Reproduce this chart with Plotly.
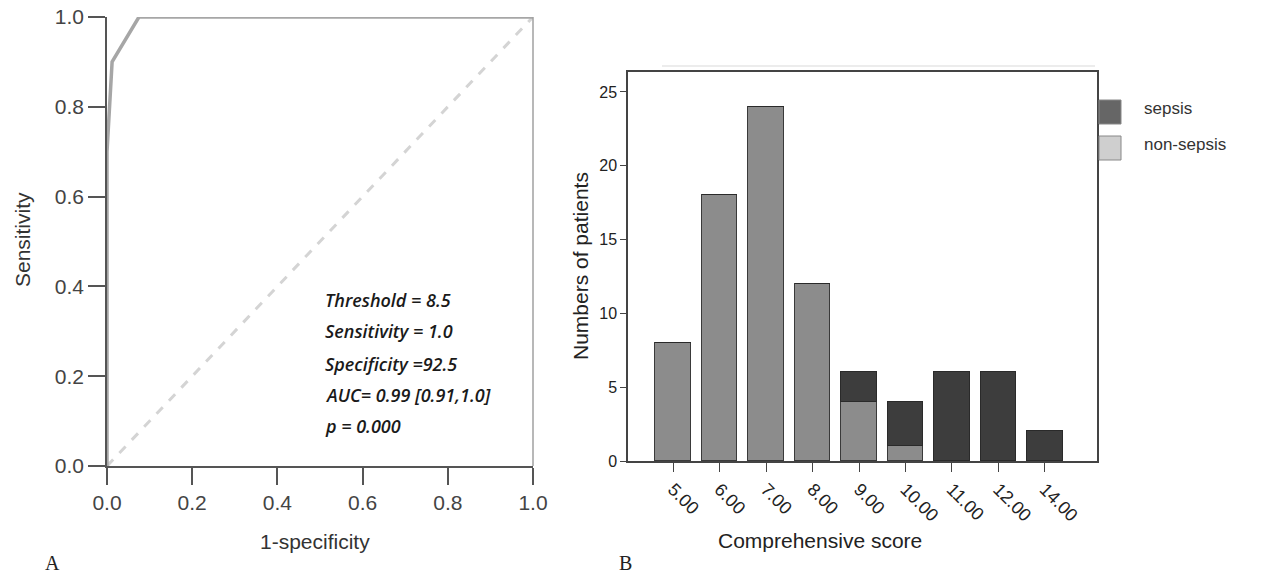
import plotly.graph_objects as go

# ROC data (panel A)
roc_fpr = [0.0, 0.0, 0.012, 0.075, 1.0]
roc_tpr = [0.0, 0.70, 0.90, 1.0, 1.0]
diag = [0.0, 1.0]
roc_ticks = [0.0, 0.2, 0.4, 0.6, 0.8, 1.0]
roc_notes = ["Threshold = 8.5", "Sensitivity = 1.0", "Specificity =92.5",
             "AUC= 0.99 [0.91,1.0]", "p = 0.000"]

# Histogram data (panel B)
score_labels = ["5.00", "6.00", "7.00", "8.00", "9.00", "10.00", "11.00", "12.00", "14.00"]
non_sepsis = [8, 18, 24, 12, 4, 1, 0, 0, 0]
sepsis = [0, 0, 0, 0, 2, 3, 6, 6, 2]
count_ticks = [0, 5, 10, 15, 20, 25]
legend_names = ["sepsis", "non-sepsis"]
legend_colors = ["#666666", "#cfcfcf"]

W, H = 1264, 575
OFF = 8  # page body margin
def px(x): return (x - OFF) / W
def py(y): return 1 - (y - OFF) / H

fig = go.Figure()

# Panel A
fig.add_trace(go.Scatter(x=diag, y=diag, mode="lines", xaxis="x", yaxis="y",
                         line=dict(color="#d4d4d4", width=3, dash="dash"), showlegend=False))
fig.add_trace(go.Scatter(x=roc_fpr, y=roc_tpr, mode="lines", xaxis="x", yaxis="y",
                         line=dict(color="#a6a6a6", width=3.5), showlegend=False, cliponaxis=False))

# Panel B
idx = list(range(len(score_labels)))
fig.add_trace(go.Bar(x=idx, y=non_sepsis, xaxis="x2", yaxis="y2", width=0.76,
                     marker=dict(color="#8c8c8c", line=dict(color="#3a3a3a", width=1)),
                     showlegend=False, name="non-sepsis"))
fig.add_trace(go.Bar(x=idx, y=sepsis, xaxis="x2", yaxis="y2", width=0.76,
                     marker=dict(color="#3d3d3d", line=dict(color="#2a2a2a", width=1)),
                     showlegend=False, name="sepsis"))

tickfont = dict(family="Liberation Sans, Arial", size=21, color="#444")
fig.update_layout(
    width=W, height=H, margin=dict(l=0, r=0, t=0, b=0, autoexpand=False),
    paper_bgcolor="white", plot_bgcolor="white", barmode="stack", bargap=0,
    showlegend=False,
    xaxis=dict(domain=[px(107), px(533)], range=[0, 1], tickvals=roc_ticks,
               ticktext=[f"{v:.1f}" for v in roc_ticks], ticks="outside", ticklen=17,
               tickcolor="#555", tickwidth=1.5, showline=True, linecolor="#555", linewidth=1.5,
               showgrid=False, zeroline=False, tickfont=tickfont, anchor="y", automargin=False,
               ticklabeloverflow="allow"),
    yaxis=dict(domain=[py(466), py(17)], range=[0, 1], tickvals=roc_ticks,
               ticktext=[f"{v:.1f}" for v in roc_ticks], ticks="outside", ticklen=17,
               tickcolor="#555", tickwidth=1.5, showline=True, linecolor="#555", linewidth=1.5,
               showgrid=False, zeroline=False, tickfont=tickfont, anchor="x", automargin=False,
               ticklabeloverflow="allow"),
    xaxis2=dict(domain=[px(628), px(1097)], range=[-0.97, 9.12], tickvals=idx,
                ticktext=score_labels, tickangle=45, ticks="outside", ticklen=9,
                tickcolor="#444", showline=True, linecolor="#444", linewidth=1.5, mirror=True,
                showgrid=False, zeroline=False, automargin=False, ticklabeloverflow="allow",
                tickfont=dict(family="Liberation Sans, Arial", size=18, color="#222"), anchor="y2"),
    yaxis2=dict(domain=[py(461), py(72)], range=[0, 26.35], tickvals=count_ticks,
                ticks="outside", ticklen=6, tickcolor="#444", showline=True, linecolor="#444",
                linewidth=1.5, mirror=True, showgrid=False, zeroline=False, automargin=False,
                ticklabeloverflow="allow",
                tickfont=dict(family="Liberation Sans, Arial", size=16, color="#222"), anchor="x2"),
)

shapes = [
    dict(type="line", xref="paper", yref="paper", x0=px(533), x1=px(533),
         y0=py(466), y1=py(17), line=dict(color="#a0a0a0", width=1.5)),
    dict(type="line", xref="paper", yref="paper", x0=px(662), x1=px(1095),
         y0=py(66), y1=py(66), line=dict(color="#e6e6e6", width=1.5)),
]
annotations = [
    dict(text="Sensitivity", x=px(22), y=py(240), textangle=-90,
         font=dict(family="Liberation Sans, Arial", size=21, color="#333")),
    dict(text="1-specificity", x=px(315), y=py(541),
         font=dict(family="Liberation Sans, Arial", size=21, color="#333")),
    dict(text="A", x=px(52), y=py(563),
         font=dict(family="Liberation Serif, Times New Roman", size=20, color="#222")),
    dict(text="Numbers of patients", x=px(580), y=py(266), textangle=-90,
         font=dict(family="Liberation Sans, Arial", size=21, color="#222")),
    dict(text="Comprehensive score", x=px(820), y=py(540),
         font=dict(family="Liberation Sans, Arial", size=21, color="#222")),
    dict(text="B", x=px(625), y=py(563),
         font=dict(family="Liberation Serif, Times New Roman", size=20, color="#222")),
]
note_y = [300, 331, 364, 395, 426]
for t, yy in zip(roc_notes, note_y):
    annotations.append(dict(text=f"<i>{t}</i>", x=px(323), y=py(yy), xanchor="left",
                            font=dict(family="Open Sans", size=18, color="#1a1a1a", weight=600)))

# legend drawn as swatches + labels
leg_y = [112, 148]
for name, col, yy in zip(legend_names, legend_colors, leg_y):
    shapes.append(dict(type="rect", xref="paper", yref="paper", x0=px(1099), x1=px(1121),
                       y0=py(yy - 12), y1=py(yy + 12), fillcolor=col,
                       line=dict(color="#888", width=1)))
    annotations.append(dict(text=name, x=px(1142), y=py(yy - 4), xanchor="left",
                            font=dict(family="Liberation Sans, Arial", size=17, color="#333")))

for a in annotations:
    a.update(xref="paper", yref="paper", showarrow=False, yanchor="middle")
    a.setdefault("xanchor", "center")
fig.update_layout(shapes=shapes, annotations=annotations)

fig.write_html("out.html")
